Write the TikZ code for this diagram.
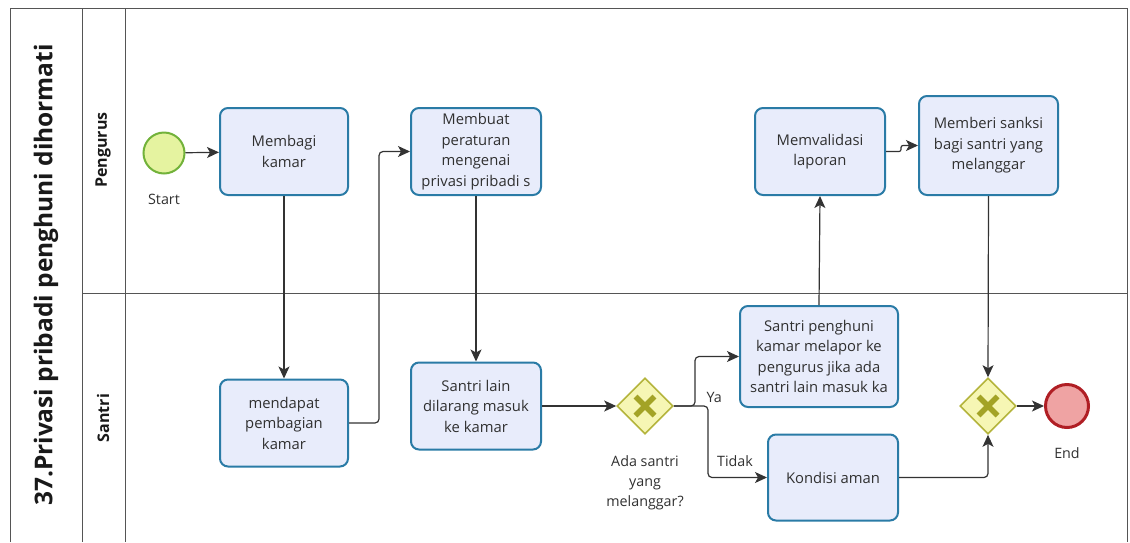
\documentclass[tikz,border=0pt]{standalone}
\usepackage{fontspec}
\setmainfont{Open Sans}
\usetikzlibrary{arrows.meta,shapes.geometric}
\definecolor{taskfill}{HTML}{E8ECFB}
\definecolor{taskline}{HTML}{2A7BA6}
\definecolor{gwfill}{HTML}{F6F6B4}
\definecolor{gwline}{HTML}{B4B43C}
\definecolor{gwx}{HTML}{A3A326}
\definecolor{startfill}{HTML}{E5F3A0}
\definecolor{startline}{HTML}{72B23A}
\definecolor{endfill}{HTML}{EFA3A3}
\definecolor{endline}{HTML}{B01E24}
\definecolor{poolline}{HTML}{555555}
\definecolor{txt}{HTML}{303030}
\begin{document}
\begin{tikzpicture}[x=1pt,y=-1pt,
 task/.style={rectangle, draw=taskline, fill=taskfill, line width=2pt, rounded corners=8pt,
   align=center, font=\fontsize{14.8}{20.5}\selectfont, inner sep=0pt, text=txt},
 flow/.style={draw=black!80, line width=1.2pt, -{Stealth[length=12pt,width=11pt,inset=3pt]}, rounded corners=4pt},
 gw/.style={diamond, draw=gwline, fill=gwfill, line width=1.6pt, minimum width=56pt, minimum height=56pt, inner sep=0pt},
 gwcross/.style={draw=gwx, line width=5.5pt},
 lbl/.style={font=\fontsize{14.3}{20}\selectfont, align=center, text=txt},
 lane/.style={draw=poolline, line width=1pt}
]
\useasboundingbox (0,0) rectangle (1130,542);
% pool and lanes
\draw[lane] (10,542) -- (10,8) -- (1127,8) -- (1127,542);
\draw[lane] (82,8) -- (82,542);
\draw[lane] (125,8) -- (125,542);
\draw[lane] (82,293) -- (1127,293);
\node[rotate=90, font=\fontsize{24.5}{28}\bfseries\selectfont, text=black!90] (title) at (46,275) {37.Privasi pribadi penghuni dihormati};
\node[rotate=90, font=\fontsize{16}{20}\bfseries\selectfont, text=black!90] (lp) at (103,150) {Pengurus};
\node[rotate=90, font=\fontsize{16}{20}\bfseries\selectfont, text=black!90] (ls) at (103,418) {Santri};

% events
\node[circle, draw=startline, fill=startfill, line width=2pt, minimum size=41pt, inner sep=0pt] (start) at (164,153) {};
\node[lbl] (startl) at (164,199) {Start};
\node[circle, draw=endline, fill=endfill, line width=3pt, minimum size=43pt, inner sep=0pt] (end) at (1067,406) {};
\node[lbl] (endl) at (1067,453) {End};

% tasks
\node[task, minimum width=128pt, minimum height=87pt] (t1) at (284,151.5) {Membagi\\kamar};
\node[task, minimum width=130pt, minimum height=87pt] (t2) at (476,151.5) {Membuat\\peraturan\\mengenai\\privasi pribadi s};
\node[task, minimum width=130pt, minimum height=87pt] (t7) at (820,151.5) {Memvalidasi\\laporan};
\node[task, minimum width=139pt, minimum height=99pt] (t8) at (988.5,145.5) {Memberi sanksi\\bagi santri yang\\melanggar};
\node[task, minimum width=128pt, minimum height=87pt] (t4) at (284,423) {mendapat\\pembagian\\kamar};
\node[task, minimum width=130pt, minimum height=87pt] (t3) at (476,406) {Santri lain\\dilarang masuk\\ke kamar};
\node[task, minimum width=158pt, minimum height=101pt] (t5) at (819,356.5) {Santri penghuni\\kamar melapor ke\\pengurus jika ada\\santri lain masuk ka};
\node[task, minimum width=130pt, minimum height=86pt] (t6) at (833,477.5) {Kondisi aman};

% gateways
\node[gw] (g1) at (645,406) {};
\draw[gwcross] ([shift={(-9.5,-9.5)}]g1.center) -- ([shift={(9.5,9.5)}]g1.center);
\draw[gwcross] ([shift={(-9.5,9.5)}]g1.center) -- ([shift={(9.5,-9.5)}]g1.center);
\node[lbl] (g1l) at (645,483) {Ada santri\\yang\\melanggar?};
\node[gw] (g2) at (988,406) {};
\draw[gwcross] ([shift={(-9.5,-9.5)}]g2.center) -- ([shift={(9.5,9.5)}]g2.center);
\draw[gwcross] ([shift={(-9.5,9.5)}]g2.center) -- ([shift={(9.5,-9.5)}]g2.center);

% flows
\draw[flow] (start) -- (t1);
\draw[flow] (t1.south) -- (t4.north);
\draw[flow] (t4.east) -- (379,423) |- (t2.west);
\draw[flow] (t2.south) -- (t3.north);
\draw[flow] (t3.east) -- (g1.west);
\draw[flow] (g1.east) -- (695,406) |- (t5.west);
\node[lbl, anchor=west] (ya) at (703,397) {Ya};
\draw[flow] (g1.east) -- (708,406) |- (t6.west);
\node[lbl] (tidak) at (735,461) {Tidak};
\draw[flow] (t5.north) -- (t7.south);
\draw[flow, rounded corners=2pt] (t7.east) -- (901,151.5) |- (t8.west);
\draw[flow] (t8.south) -- (g2.north);
\draw[flow] (t6.east) -| (g2.south);
\draw[flow] (g2.east) -- (end.west);
\end{tikzpicture}
\end{document}
